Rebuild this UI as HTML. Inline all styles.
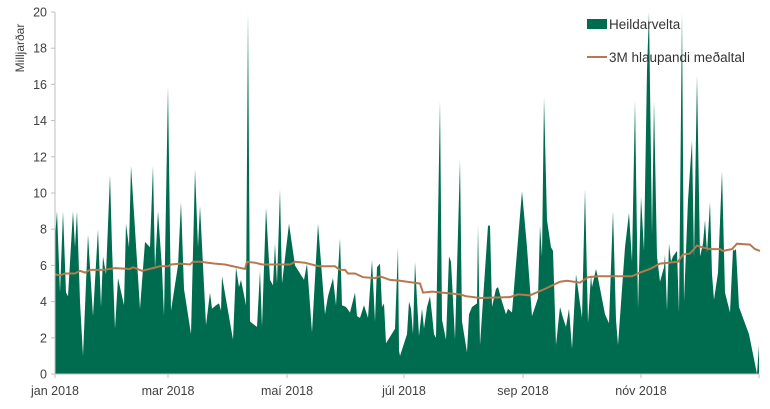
<!DOCTYPE html>
<html><head><meta charset="utf-8"><style>
html,body{margin:0;padding:0;background:#fff}
svg text{font-family:"Liberation Sans",sans-serif;fill:#404040}
</style></head><body>
<svg id="s" width="770" height="404" viewBox="0 0 770 404" xmlns="http://www.w3.org/2000/svg">
<g id="area"></g>
<g id="axes" stroke="#bfbfbf" stroke-width="1" fill="none"></g>
<g id="lbl" font-size="12.5"></g>
<text transform="translate(24,48) rotate(-90)" font-size="12" text-anchor="middle">Milljarðar</text>
<rect x="587" y="19" width="20" height="10" fill="#006c4f"/>
<text x="609" y="29" font-size="13.5" style="fill:#333">Heildarvelta</text>
<line x1="587" y1="57" x2="607" y2="57" stroke="#b5784f" stroke-width="2"/>
<text x="609" y="62" font-size="13.5" style="fill:#333">3M hlaupandi meðaltal</text>
</svg>
<script>
var Y=function(v){return 374-v*18.1};
var a=[55,7.5,57,9,60,4.5,63,9,66,4.5,68,4.3,73,9,75,7,77,9,80,4,83,1,88,7.7,93,3.2,98,8,101,3.7,103,6.5,106,5.5,110,11,112,7,115,2.5,118,5.3,124,3.8,126,8.3,129,7,131,11.5,135,8,140,3.6,145,7.3,150,7,153,11.5,155,5.8,158,9,162,5.8,164,3.2,168,15.9,171,3.5,178,6,181,9.5,184,4.7,191,2.2,195,11.3,198,7,200,9.3,206,2.7,210,4.5,212,3.6,216,3.8,219,3.9,221,3.5,222,5.4,233,1.9,236,5.9,239,4.8,241,5.2,246,3.8,248,20,250,2.9,257,2.6,260,5.7,262,2.6,266,9.2,270,5.2,273,4.9,275,7.2,277,5,280,10.2,282,5,289,8.3,295,6,304,5.2,307,6.1,312,2.3,318,8.3,325,3.3,328,4.3,333,5.3,336,3.8,340,7.5,342,3.8,346,3.7,350,3.4,355,4.5,357,3.2,360,3.1,364,3.8,368,3.1,372,6.3,375,2.9,377,5.9,380,6.1,382,3.7,384,3.9,386,1.7,395,2.5,398,7,399,1.3,400,1,407,2.2,409,4.0,411,3.6,413,2.2,415,6.2,417,4.1,419,2.1,422,3.6,424,2.5,427,3.7,430,4.3,432,3.3,434,2.2,436,2.0,440,15.1,442,3.0,446,1.9,449,6.5,451,6.2,453,4.1,455,1.9,460,11.8,462,2.9,467,1.2,469,3.3,472,3.7,477,3.9,478,8.2,480,1.6,488,8.2,490,8.2,492,3.7,496,4.7,498,4.8,502,4.0,506,3.3,508,3.6,512,3.4,522,10.1,527,7,532,3.2,538,4.2,540,8.2,542,6.5,544,15.3,547,8.5,551,7,553,6.8,556,1.6,560,3.7,563,3.1,566,2.6,569,3.6,572,1.4,576,5.5,582,3.1,585,10.2,588,2.8,591,5.5,592,4.8,596,5.8,598,5.3,605,3.3,609,2.8,613,9.0,616,3.0,618,1.6,625,7.0,629,8.9,632,6.2,635,15.1,638,3.6,641,9.8,644,6.8,647,16.8,649,20,652,7.7,654,15.1,657,6.5,660,5.1,664,5.9,665,6.6,667,3.5,669,7.2,671,6.2,673,6.5,677,6.8,679,3.4,682,20,684,4.0,688,9.6,692,12.9,694,6.4,697,16.5,700,6.5,703,7.2,705,8.5,707,6.7,710,9.5,712,5.5,714,4.1,718,5.6,722,11.2,725,4.5,730,3.4,733,6.9,734,6.8,736,6.9,739,3.7,749,2.2,757,0,759,1.6];
var m=[55,5.5,60,5.45,65,5.55,75,5.55,80,5.7,85,5.6,90,5.75,103,5.75,115,5.85,130,5.8,133,5.9,142,5.7,153,5.85,160,5.95,168,5.95,171,6.05,180,6.1,190,6.05,193,6.2,200,6.2,215,6.1,225,6.05,245,5.8,247,6.2,255,6.15,262,6.05,290,6.05,295,6.2,305,6.15,315,6.0,320,5.95,335,5.95,340,5.75,345,5.75,348,5.55,355,5.55,363,5.35,375,5.3,380,5.4,390,5.2,400,5.15,420,5.0,423,4.5,432,4.55,460,4.4,466,4.3,480,4.2,510,4.25,518,4.4,530,4.35,545,4.7,560,5.1,567,5.15,580,5.05,588,5.35,598,5.4,632,5.4,640,5.6,650,5.8,660,6.1,678,6.2,683,6.6,690,6.65,697,7.1,702,7.0,710,6.9,720,6.9,723,6.8,732,6.9,737,7.2,750,7.15,755,6.9,760,6.8];
var d="M55,374";for(var i=0;i<a.length;i+=2)d+=" L"+a[i]+","+Y(a[i+1]).toFixed(1);d+=" L759,374 Z";
var l="";for(i=0;i<m.length;i+=2)l+=(i?" L":"M")+m[i]+","+Y(m[i+1]).toFixed(1);
var g=document.getElementById("area");
g.innerHTML='<path d="'+d+'" fill="#006c4f"/><path d="'+l+'" fill="none" stroke="#b5784f" stroke-width="2"/>';
var ax='<line x1="55" y1="12" x2="55" y2="374"/><line x1="55" y1="374" x2="759" y2="374"/>',lb="";
for(var v=0;v<=20;v+=2){var y=Y(v);ax+='<line x1="51" y1="'+y+'" x2="55" y2="'+y+'"/>';lb+='<text x="47" y="'+(y+4.5)+'" text-anchor="end">'+v+'</text>';}
var xs=[[55,"jan 2018"],[168,"mar 2018"],[287,"maí 2018"],[404,"júl 2018"],[523,"sep 2018"],[641,"nóv 2018"],[759,""]];
xs.forEach(function(p){ax+='<line x1="'+p[0]+'" y1="374" x2="'+p[0]+'" y2="378"/>';if(p[1])lb+='<text x="'+p[0]+'" y="395" text-anchor="middle">'+p[1]+'</text>';});
document.getElementById("axes").innerHTML=ax;document.getElementById("lbl").innerHTML=lb;
</script>
</body></html>
